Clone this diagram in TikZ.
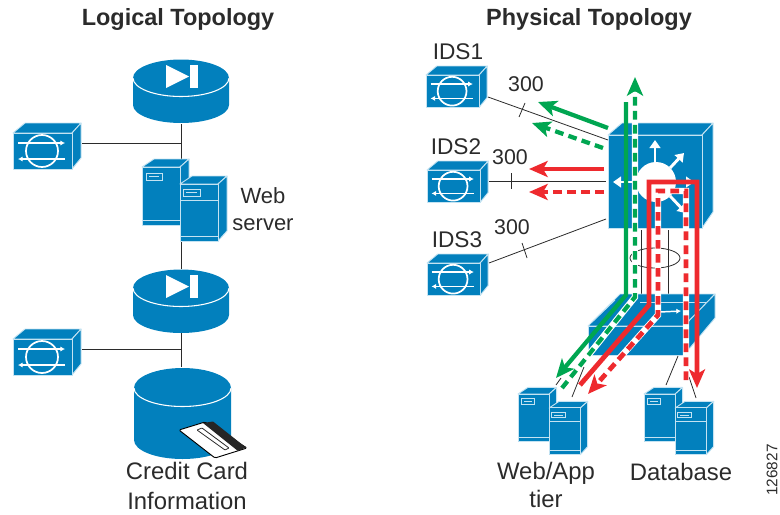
\documentclass[tikz,border=0pt]{standalone}
\usepackage{fontspec}
\setmainfont{Liberation Sans}
\usetikzlibrary{arrows.meta,calc}
\definecolor{cisco}{HTML}{0280BD}
\definecolor{edgeblue}{HTML}{C4E3F2}
\definecolor{flowgreen}{HTML}{00A651}
\definecolor{flowred}{HTML}{EE2A2E}
\definecolor{inkgray}{HTML}{2B2B2B}
\tikzset{
  face/.style={fill=cisco,draw=edgeblue,line width=.7pt,line join=round},
  wline/.style={draw=white,line width=1.1pt},
  wtip/.style={draw=white,line width=1.1pt,-{Latex[length=3.5pt,width=4pt]}},
  wfat/.style={draw=white,line width=2.2pt,-{Triangle[length=6pt,width=8pt]}},
  link/.style={draw=inkgray,line width=.6pt},
  lab/.style={text=inkgray,font=\fontsize{17pt}{20pt}\selectfont,inner sep=0pt,align=center},
  labbig/.style={text=inkgray,font=\fontsize{17.9pt}{20.6pt}\selectfont,inner sep=0pt,align=center},
  labwide/.style={text=inkgray,font=\fontsize{16.5pt}{19pt}\selectfont,inner sep=0pt,align=center},
  cnt/.style={text=inkgray,font=\fontsize{16pt}{19pt}\selectfont,inner sep=0pt},
  ttl/.style={text=inkgray,font=\fontsize{17.6pt}{20pt}\selectfont\bfseries,inner sep=0pt},
  halo/.style={draw=white,line width=4.8pt,line join=miter},
  flowtip/.style={-{Stealth[length=14pt,width=12pt,inset=3.5pt]}},
  gsolid/.style={draw=flowgreen,line width=3.2pt,line join=miter},
  gdash/.style={draw=flowgreen,line width=3.2pt,dash pattern=on 6.5pt off 4pt},
  rsolid/.style={draw=flowred,line width=3.6pt,line join=miter},
  rdash/.style={draw=flowred,line width=3.6pt,dash pattern=on 6.5pt off 4pt},
}
\newcommand{\idsicon}[4]{%
  \begin{scope}[shift={(#2,#3)},scale=#4]
    \coordinate (#1) at (29.5,18);
    \path[face] (0,0) -- (12,-10) -- (68,-10) -- (59,0) -- cycle;
    \path[face] (59,0) -- (68,-10) -- (68,25) -- (59,36) -- cycle;
    \path[face] (0,0) rectangle (59,36);
    \draw[wtip] (5,10) -- (52,10);
    \draw[wtip] (52,26) -- (5,26);
    \draw[white,line width=1.3pt] (29,18) circle (16);
  \end{scope}}
\newcommand{\serverpair}[4]{%
  \begin{scope}[shift={(#2,#3)},scale=#4]
    \coordinate (#1) at (38,17);
    \path[face] (0,0) -- (12,-8) -- (47,-8) -- (38,0) -- cycle;
    \path[face] (38,0) -- (47,-8) -- (47,48) -- (38,58) -- cycle;
    \path[face] (0,0) rectangle (38,58);
    \draw[edgeblue,line width=.7pt] (0,53) -- (38,53);
    \draw[edgeblue,line width=.7pt] (4,6) rectangle (20,13);
    \fill[edgeblue] (7,9) rectangle (17,10.2);
    \path[face] (38,17) -- (50,9) -- (85,9) -- (76,17) -- cycle;
    \path[face] (76,17) -- (85,9) -- (85,64) -- (76,74) -- cycle;
    \path[face] (38,17) rectangle (76,74);
    \draw[edgeblue,line width=.7pt] (38,33) -- (76,33);
    \draw[edgeblue,line width=.7pt] (38,69) -- (76,69);
    \draw[edgeblue,line width=.7pt] (41,22) rectangle (58,29);
    \fill[edgeblue] (44,25) rectangle (55,26.2);
  \end{scope}}
\newcommand{\routericon}[3]{%
  \begin{scope}[shift={(#2,#3)}]
    \coordinate (#1) at (0,0);
    \path[fill=cisco] (-48,0) -- (-48,27) arc[x radius=48,y radius=18,start angle=180,end angle=0] -- (48,0) -- cycle;
    \path[fill=cisco] (0,0) ellipse[x radius=48,y radius=18.5];
    \draw[white,line width=.8pt] (-48,0) arc[x radius=48,y radius=18.5,start angle=180,end angle=0];
    \fill[white] (-15,-13) -- (-15,10) -- (8,-1.5) -- cycle;
    \fill[white] (9,-13) rectangle (17,10);
  \end{scope}}
\begin{document}
\begin{tikzpicture}[x=.75pt,y=-.75pt]
\useasboundingbox (0,0) rectangle (780,514);
% ---------- logical ----------
\node[ttl] (t1) at (178,19.5) {Logical Topology};
\coordinate (j1) at (181.5,143);
\coordinate (j2) at (181.5,349);
\idsicon{lids1}{13}{133}{1}
\idsicon{lids2}{13}{339}{1}
\routericon{r1}{181}{78}
\routericon{r2}{181}{288}
\coordinate (s1top) at (181.5,159);
\coordinate (s1bot) at (181.5,242);
\coordinate (dbtop) at (181.5,367);
\coordinate (r1bot) at (181.5,124);
\coordinate (r2top) at (181.5,269);
\coordinate (r2bot) at (181.5,333);
\coordinate (lids1e) at (82,143);
\coordinate (lids2e) at (82,349);
\draw[link] (r1bot) -- (s1top);
\draw[link] (lids1e) -- (j1);
\draw[link] (s1bot) -- (r2top);
\draw[link] (r2bot) -- (dbtop);
\draw[link] (lids2e) -- (j2);
\serverpair{sv1}{142}{167}{1}
\node[labwide] (websrv) at (263,209) {Web\\[1pt]server};
% database
\path[fill=cisco] (134,388) -- (134,440) arc[x radius=48.5,y radius=19,start angle=180,end angle=0] -- (231,388) -- cycle;
\path[fill=cisco] (182.5,388) ellipse[x radius=48.5,y radius=20];
\draw[white,line width=.8pt] (134,388) arc[x radius=48.5,y radius=18.5,start angle=180,end angle=0];
\coordinate (db) at (182.5,420);
% card
\path[fill=white,draw=black,line width=.7pt,line join=round,rounded corners=1pt] (179,430) -- (205,422) -- (247,448) -- (215,458) -- cycle;
\fill[black!85] (203,423) -- (213,421.5) -- (246,447.5) -- (238,451) -- cycle;
\draw[inkgray,line width=.6pt,fill=white,rounded corners=.5pt] (197,430) -- (202,428) -- (229,448) -- (225,450) -- cycle;
\node[labbig] (cc) at (187,486) {Credit Card\\[2pt]Information};
% ---------- physical ----------
\node[ttl] (t2) at (589,19.5) {Physical Topology};
\idsicon{ids1}{426}{75}{.9}
\idsicon{ids2}{427}{170}{.9}
\idsicon{ids3}{427}{263}{.9}
\node[lab] (n1) at (458,52) {IDS1};
\node[lab] (n2) at (456,147) {IDS2};
\node[lab] (n3) at (457,240) {IDS3};
\node[cnt] (c1) at (526,84) {300};
\node[cnt] (c2) at (510,157) {300};
\node[cnt] (c3) at (512,227) {300};
% upper switch
\path[face] (608,135) -- (622,123) -- (713,123) -- (702,135) -- cycle;
\path[face] (702,135) -- (713,123) -- (713,212) -- (702,228) -- cycle;
\path[face] (608,135) rectangle (702,228);
\coordinate (sw) at (655,182);
\fill[white] (656,182) circle (20);
\draw[wfat] (655,162) -- (655,140);
\draw[wfat] (670,168) -- (684,153);
\draw[wfat] (636,182) -- (613,182);
\draw[wfat] (670,196) -- (686,213);
\draw[wfat] (676,182) -- (694,182);
% connectors at switches
\coordinate (a1) at (488,97);  \coordinate (b1) at (608,140);
\coordinate (a2) at (489,181); \coordinate (b2) at (606,181);
\coordinate (a3) at (489,263); \coordinate (b3) at (606,219);
\draw[link] (a1) -- (b1);
\draw[link] (a2) -- (b2);
\draw[link] (a3) -- (b3);
\coordinate (k1a) at (525,103); \coordinate (k1b) at (519,117);
\coordinate (k2a) at (511,173); \coordinate (k2b) at (511,189);
\coordinate (k3a) at (522,243); \coordinate (k3b) at (527,258);
\draw[link] (k1a) -- (k1b);
\draw[link] (k2a) -- (k2b);
\draw[link] (k3a) -- (k3b);
% trunk to lower switch
\coordinate (t1a) at (641,230); \coordinate (t1b) at (641,296);
\coordinate (t2a) at (668,230); \coordinate (t2b) at (668,296);
\draw[link] (t1a) -- (t1b);
\draw[link] (t2a) -- (t2b);
\draw[link] (655,258) ellipse[x radius=25,y radius=10];
% lower switch
\path[face] (588,326) -- (620,294) -- (715,294) -- (684,326) -- cycle;
\path[face] (684,326) -- (715,294) -- (715,318) -- (684,355) -- cycle;
\path[face] (588,326) rectangle (684,355);
\coordinate (sw2) at (640,325);
\draw[edgeblue,line width=.7pt] (640,302) -- (706,302);
\draw[wtip] (660,312) -- (681,311);
\draw[edgeblue,line width=.7pt] (592,322) -- (615,300);
% server pairs
\coordinate (w1a) at (561,378); \coordinate (w1b) at (556,385);
\coordinate (w2a) at (584,367); \coordinate (w2b) at (572,397);
\coordinate (d1a) at (678,356); \coordinate (d1b) at (666,385);
\coordinate (d2a) at (689,377); \coordinate (d2b) at (696,398);
\serverpair{sv2}{518}{394}{.82}
\serverpair{sv3}{644}{394}{.82}
\draw[link] (w1a) -- (w1b);
\draw[link] (w2a) -- (w2b);
\draw[link] (d1a) -- (d1b);
\draw[link] (d2a) -- (d2b);
\node[labbig] (wa) at (546,485) {Web/App\\[1pt]tier};
\node[labbig] (dbl) at (681,472) {Database};
\node[rotate=90,text=inkgray,font=\fontsize{11.5pt}{13pt}\selectfont,inner sep=0pt] (id) at (772,470) {126827};
% ---------- flows ----------
\coordinate (g1s) at (608,128); \coordinate (g1e) at (538,102);
\coordinate (g2s) at (603,148); \coordinate (g2e) at (532,123);
\coordinate (r1s) at (604,169); \coordinate (r1e) at (529,169);
\coordinate (r2s) at (604,192); \coordinate (r2e) at (529,192);
\draw[gsolid,flowtip] (g1s) -- (g1e);
\draw[gdash,flowtip] (g2s) -- (g2e);
\draw[rsolid,flowtip] (r1s) -- (r1e);
\draw[rdash,flowtip] (r2s) -- (r2e);
% green flows
\coordinate (gv1) at (635,297); \coordinate (gtop) at (635,77); \coordinate (gend) at (562,388);
\draw[halo] (635,92) -- (gv1) -- (gend);
\draw[gdash,flowtip] (gend) -- (gv1) -- (gtop);
\coordinate (gs0) at (626,102); \coordinate (gs1) at (626,295); \coordinate (gs2) at (556,378);
\draw[gsolid,flowtip] (gs0) -- (gs1) -- (gs2);
% red flows
\coordinate (rs0) at (580,385); \coordinate (rs1) at (649,305); \coordinate (rs2) at (649,182);
\coordinate (rs3) at (697,182); \coordinate (rs4) at (697,388);
\draw[rsolid,flowtip] (rs0) -- (rs1) -- (rs2) -- (rs3) -- (rs4);
\coordinate (rd0) at (686,380); \coordinate (rd1) at (686,191); \coordinate (rd2) at (658,191);
\coordinate (rd3) at (658,315); \coordinate (rd4) at (588,394);
\draw[halo] (rd0) -- (rd1) -- (rd2) -- (rd3) -- (599,381);
\draw[rdash,flowtip] (rd0) -- (rd1) -- (rd2) -- (rd3) -- (rd4);
\end{tikzpicture}
\end{document}
